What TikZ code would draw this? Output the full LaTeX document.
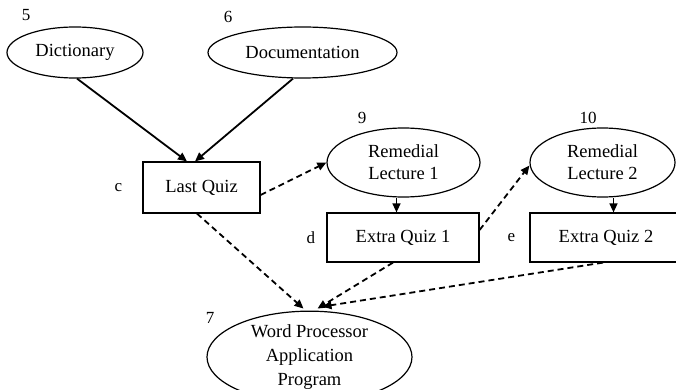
\documentclass[tikz,border=0pt]{standalone}
\usepackage{fontspec}
\setmainfont{Liberation Serif}
\usetikzlibrary{arrows.meta,positioning,shapes.geometric}

\begin{document}
\begin{tikzpicture}[x=1pt,y=-1pt,font=\fontsize{18.5}{22}\selectfont]
\tikzset{
  ell/.style={draw,ellipse,line width=1.2pt,inner sep=0pt,align=center},
  quiz/.style={draw,rectangle,line width=1.2pt,inner sep=0pt,align=center},
  lbl/.style={inner sep=0pt,font=\fontsize{17}{20}\selectfont},
  arr/.style={-{Triangle[length=9pt,width=8pt]},line width=1.8pt},
  darr/.style={arr,dash pattern=on 6pt off 4pt}
}
\useasboundingbox (0,0) rectangle (676,390);
\clip (0,0) rectangle (676,390);
% sources
\node(dict)[ell,minimum width=136pt,minimum height=51pt] at (75,52.5) {Dictionary};
\node(doc)[ell,minimum width=189pt,minimum height=51pt] at (302.5,52.5) {Documentation};
% quizzes and lectures
\node(lq)[quiz,minimum width=117pt,minimum height=51pt] at (201.5,187.5) {Last Quiz};
\node(rl1)[ell,minimum width=153pt,minimum height=69pt] at (403.5,162.5) {Remedial\\Lecture 1};
\node(eq1)[quiz,minimum width=152pt,minimum height=49pt] at (403,237.5) {Extra Quiz 1};
\node(rl2)[ell,minimum width=145pt,minimum height=69pt] at (602.5,162.5) {Remedial\\Lecture 2};
\node(eq2)[quiz,minimum width=152pt,minimum height=49pt] at (606,237.5) {Extra Quiz 2};
% target
\node(wp)[ell,minimum width=205pt,minimum height=84pt,font=\fontsize{18.5}{24}\selectfont] at (309.5,357) {Word Processor\\Application\\Program};
% labels
\node(n5)[lbl] at (26,15) {5};
\node(n6)[lbl] at (228,17) {6};
\node(n9)[lbl] at (362,118) {9};
\node(n10)[lbl] at (588,118) {10};
\node(n7)[lbl] at (210,318) {7};
\node(lc)[lbl,left=20pt of lq] {c};
\node(ld)[lbl,left=11pt of eq1] {d};
\node(le)[lbl,left=14pt of eq2] {e};
% connectors
\draw[arr]([xshift=2pt]dict.south)--([xshift=-14.5pt]lq.north);
\draw[arr]([xshift=-9.5pt]doc.south)--([xshift=-6.5pt]lq.north);
\draw[darr]([yshift=-7.5pt]lq.east)--(rl1.west);
\draw[arr,line width=1.4pt]([xshift=-7pt]rl1.south)--([xshift=-7pt]rl1.south |- eq1.north);
\draw[darr]([yshift=7.5pt]eq1.east)--([yshift=-3pt]rl2.west);
\draw[arr,line width=1.4pt]([xshift=11pt]rl2.south)--([xshift=11pt]rl2.south |- eq2.north);
\draw[darr]([xshift=-4.5pt]lq.south)--([xshift=-6pt,yshift=2pt]wp.north);
\draw[darr]([xshift=-10pt]eq1.south)--([xshift=8pt,yshift=2pt]wp.north);
\draw[darr]([xshift=-3pt]eq2.south)--([xshift=13pt,yshift=4pt]wp.north);
\end{tikzpicture}
\end{document}
